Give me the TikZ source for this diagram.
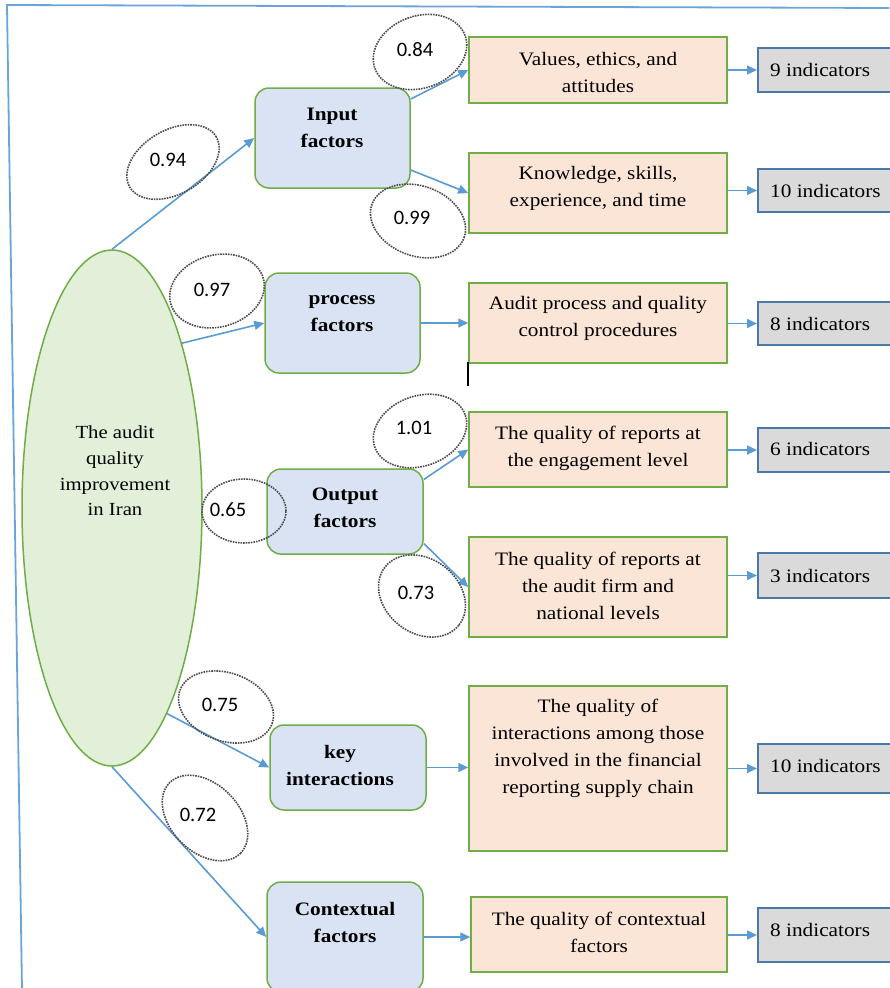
\documentclass[tikz,border=0pt]{standalone}
\usepackage{fontspec}
\setmainfont[FakeStretch=1.12]{Liberation Serif}
\newfontfamily\numfont{Carlito}
\usetikzlibrary{arrows.meta,shapes.geometric,calc}
\definecolor{arrowblue}{HTML}{5B9BD5}
\definecolor{frameblue}{HTML}{6BA4DB}
\definecolor{boxgreen}{HTML}{70AD47}
\definecolor{lightblue}{HTML}{DAE3F3}
\definecolor{peach}{HTML}{FBE5D6}
\definecolor{lightgreen}{HTML}{E2F0D9}
\definecolor{greyfill}{HTML}{DADADA}
\definecolor{greyedge}{HTML}{4A78A8}
\begin{document}
\begin{tikzpicture}[x=1pt,y=1pt,
 factorbox/.style={draw=boxgreen, line width=1.5pt, fill=lightblue, rounded corners=14pt, inner sep=0pt},
 dimbox/.style={draw=boxgreen, line width=1.5pt, fill=peach, inner sep=0pt, minimum width=258pt},
 indbox/.style={draw=greyedge, line width=1.5pt, fill=greyfill, inner sep=0pt, anchor=west, minimum width=150pt},
 ftext/.style={font=\bfseries\fontsize{19}{27}\selectfont, align=center, inner sep=0pt},
 dtext/.style={font=\fontsize{19}{27}\selectfont, align=center, inner sep=0pt},
 itext/.style={font=\fontsize{19}{27}\selectfont, anchor=west, inner sep=0pt},
 num/.style={font=\numfont\fontsize{20.5}{24}\selectfont, inner sep=0pt},
 coef/.style={draw=black!70, densely dotted, line width=1.6pt, ellipse, inner sep=0pt},
 link/.style={draw=arrowblue, line width=1.6pt, -{Triangle[length=10pt,width=9pt]}},
]
\useasboundingbox (0,0) rectangle (889,-988);
% frame
\coordinate (fa) at (7,-5);
\coordinate (fb) at (889,-8);
\coordinate (fc) at (22,-990);
\draw[frameblue, line width=1.8pt] (fb) -- (fa) -- (fc);

% main construct
\node[ellipse, draw=boxgreen, fill=lightgreen, line width=1.5pt, minimum width=180pt, minimum height=516pt, inner sep=0pt] (main) at (112,-508) {};
\node[dtext, font=\fontsize{18.5}{25.7}\selectfont] (maintext) at (115,-471) {The audit\\quality\\improvement\\in Iran};

% factor boxes
\node[factorbox, minimum width=155pt, minimum height=100pt] (input) at (332.5,-138) {};
\node[ftext] (inputt) at (332,-128) {Input\\factors};
\node[factorbox, minimum width=155pt, minimum height=100pt] (process) at (342.5,-323) {};
\node[ftext] (processt) at (342,-313.5) {process\\factors};
\node[factorbox, minimum width=156pt, minimum height=85pt] (output) at (345,-511.5) {};
\node[ftext] (outputt) at (345,-507.5) {Output\\factors};
\node[factorbox, minimum width=156pt, minimum height=85pt] (key) at (348,-767.5) {};
\node[ftext] (keyt) at (340,-765) {key\\interactions};
\node[factorbox, minimum width=156pt, minimum height=110pt] (ctx) at (345,-937) {};
\node[ftext] (ctxt) at (345,-922) {Contextual\\factors};

% dimension boxes
\node[dimbox, minimum height=66pt] (values) at (598,-70) {};
\node[dtext] (valuest) at (598,-72.5) {Values, ethics, and\\attitudes};
\node[dimbox, minimum height=80pt] (know) at (598,-193) {};
\node[dtext] (knowt) at (598,-188) {Knowledge, skills,\\experience, and time};
\node[dimbox, minimum height=80pt] (audit) at (598,-323) {};
\node[dtext] (auditt) at (598,-318.5) {Audit process and quality\\control procedures};
\node[dimbox, minimum height=75pt] (rep1) at (598,-449.5) {};
\node[dtext] (rep1t) at (598,-448) {The quality of reports at\\the engagement level};
\node[dimbox, minimum height=100pt] (rep2) at (598,-587) {};
\node[dtext] (rep2t) at (598,-586) {The quality of reports at\\the audit firm and\\national levels};
\node[dimbox, minimum height=165pt] (inter) at (598,-768.5) {};
\node[dtext] (intert) at (598,-748) {The quality of\\interactions among those\\involved in the financial\\reporting supply chain};
\node[dimbox, minimum width=256pt, minimum height=75pt] (cq) at (599,-934.5) {};
\node[dtext] (cqt) at (599,-932.5) {The quality of contextual\\factors};

% indicator boxes
\node[indbox, minimum height=44pt] (g1) at (757,-70) {};
\node[itext] (g1t) at (770,-70) {9 indicators};
\node[indbox, minimum height=43pt] (g2) at (757,-190.5) {};
\node[itext] (g2t) at (770,-190.5) {10 indicators};
\node[indbox, minimum height=43pt] (g3) at (757,-323.5) {};
\node[itext] (g3t) at (770,-323.5) {8 indicators};
\node[indbox, minimum height=44pt] (g4) at (757,-450) {};
\node[itext] (g4t) at (770,-449) {6 indicators};
\node[indbox, minimum height=45pt] (g5) at (757,-575.5) {};
\node[itext] (g5t) at (770,-576) {3 indicators};
\node[indbox, minimum height=49pt] (g6) at (757,-768.5) {};
\node[itext] (g6t) at (770,-766) {10 indicators};
\node[indbox, minimum height=54pt] (g7) at (757,-935) {};
\node[itext] (g7t) at (770,-930) {8 indicators};

% arrows
\draw[link] (main.north) -- (input.west);
\draw[link] (main.67) -- (process.west);
\draw[link] (main.-75) -- (key.west);
\draw[link] (main.south) -- (ctx.west);
\draw[link] ([yshift=39pt]input.east) -- (values.west);
\draw[link] ([yshift=-32pt]input.east) -- (know.west);
\draw[link] (process.east) -- (audit.west);
\draw[link] ([yshift=32pt]output.east) -- (rep1.west);
\draw[link] ([yshift=-32pt]output.east) -- (rep2.west);
\draw[link] (key.east) -- (key.east -| inter.west);
\draw[link] (ctx.east) -- (ctx.east -| cq.west);
\draw[link] (g1.west -| values.east) -- (g1.west);
\draw[link] (g2.west -| know.east) -- (g2.west);
\draw[link] (g3.west -| audit.east) -- (g3.west);
\draw[link] (g4.west -| rep1.east) -- (g4.west);
\draw[link] (g5.west -| rep2.east) -- (g5.west);
\draw[link] (g6.west -| inter.east) -- (g6.west);
\draw[link] (g7.west -| cq.east) -- (g7.west);

% coefficient ellipses
\node[coef, minimum width=96pt, minimum height=72pt, rotate=20] (c84) at (420,-52) {};
\node[num] (n84) at (415,-50) {0.84};
\node[coef, minimum width=100pt, minimum height=64pt, rotate=30] (c94) at (173,-162) {};
\node[num] (n94) at (168,-160) {0.94};
\node[coef, minimum width=98pt, minimum height=70pt, rotate=-20] (c99) at (418,-221) {};
\node[num] (n99) at (412,-218) {0.99};
\node[coef, minimum width=96pt, minimum height=72pt, rotate=15] (c97) at (217,-291) {};
\node[num] (n97) at (212,-290) {0.97};
\node[coef, minimum width=96pt, minimum height=70pt, rotate=20] (c101) at (420,-431) {};
\node[num] (n101) at (414,-428) {1.01};
\node[coef, minimum width=84pt, minimum height=64pt] (c65) at (244,-511) {};
\node[num] (n65) at (228,-510) {0.65};
\node[coef, minimum width=94pt, minimum height=74pt, rotate=-38] (c73) at (422,-596) {};
\node[num] (n73) at (416,-593) {0.73};
\node[coef, minimum width=98pt, minimum height=68pt, rotate=-20] (c75) at (226,-707) {};
\node[num] (n75) at (220,-705) {0.75};
\node[coef, minimum width=100pt, minimum height=68pt, rotate=-45] (c72) at (205,-818) {};
\node[num] (n72) at (198,-815) {0.72};

% stray cursor mark
\coordinate (ca) at (468,-362);
\coordinate (cb) at (468,-386);
\draw[black, line width=1.2pt] (ca) -- (cb);
\end{tikzpicture}
\end{document}
